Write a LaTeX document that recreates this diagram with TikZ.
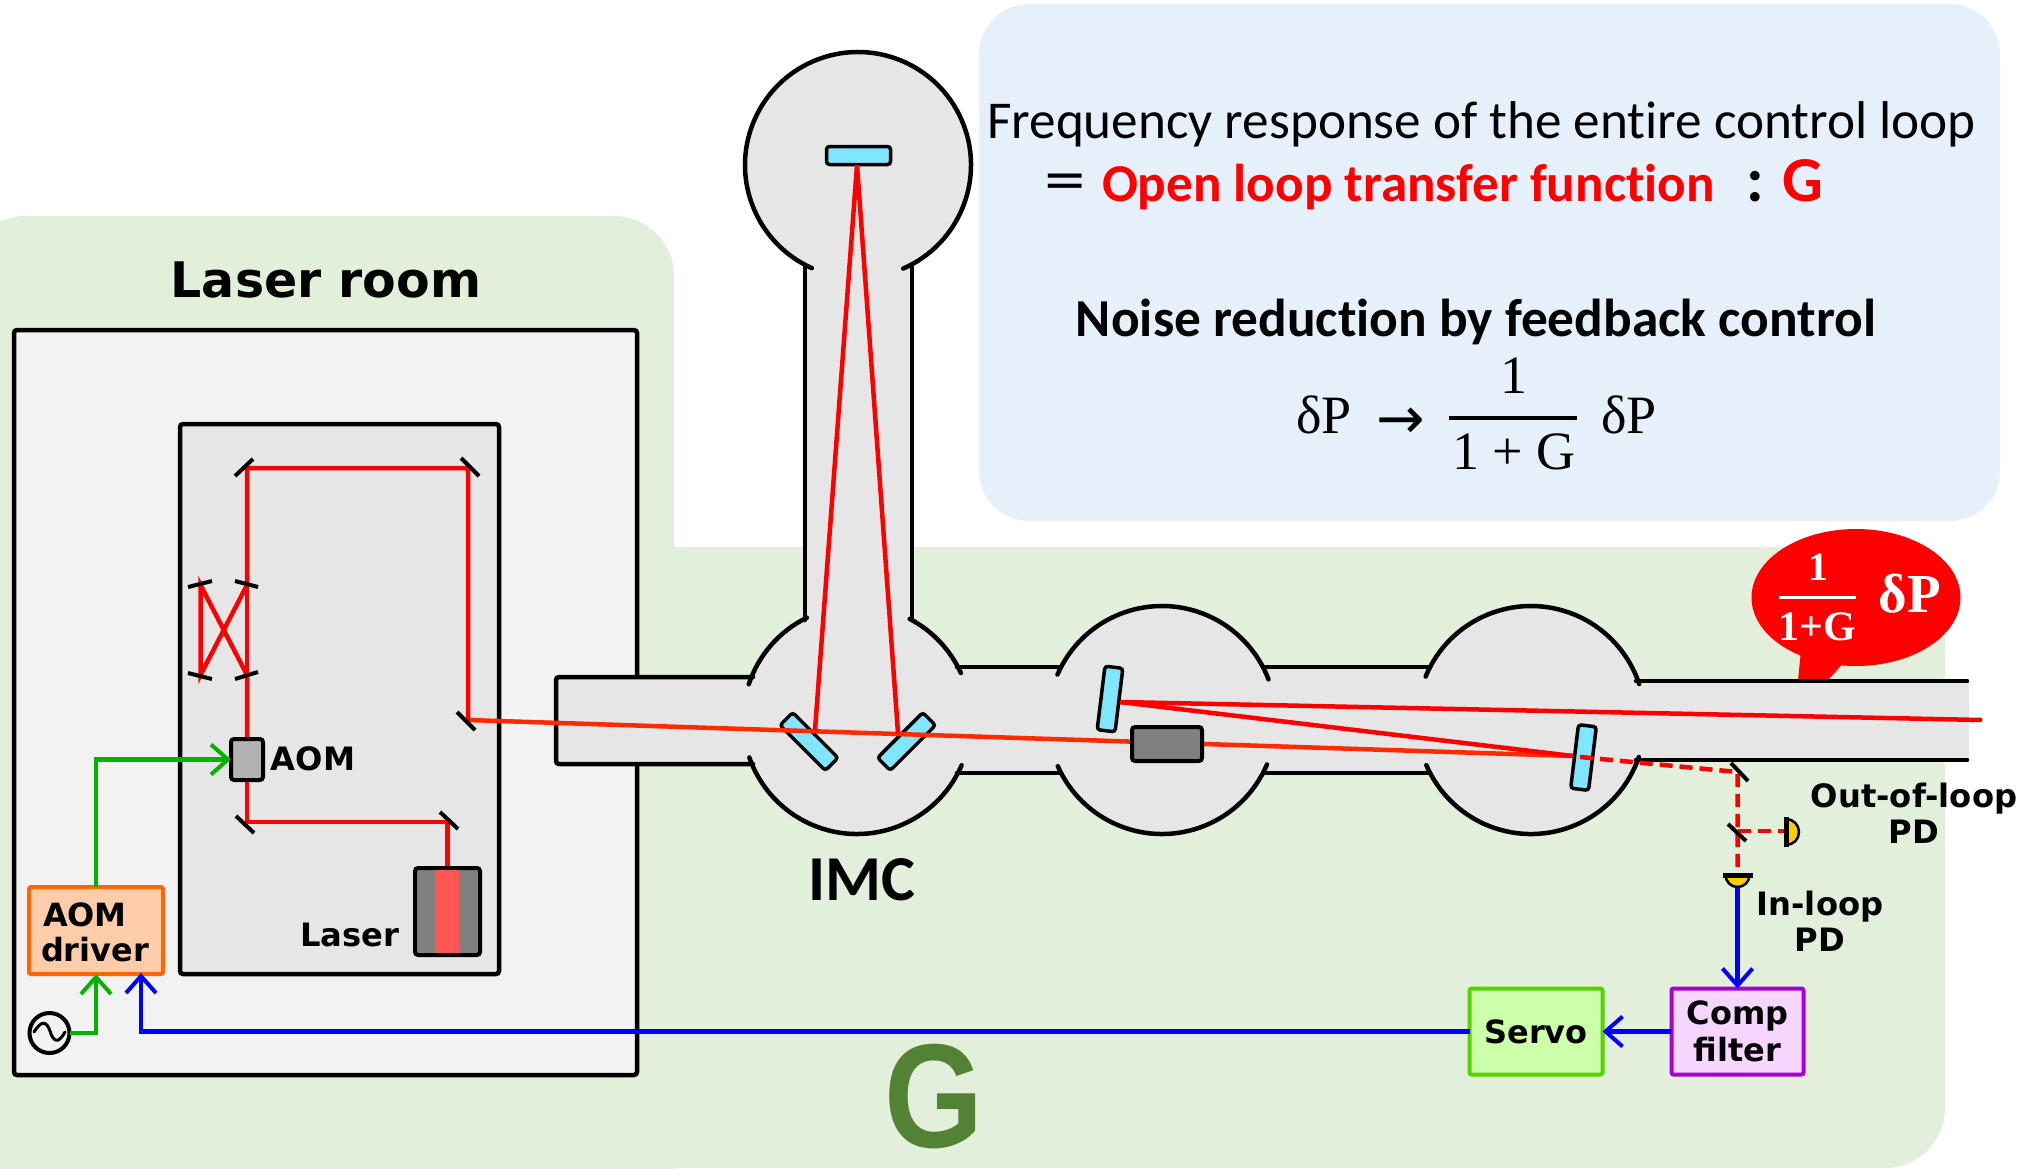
\documentclass[tikz,border=0pt]{standalone}
\usepackage{fontspec}
\setmainfont{Carlito}[Ligatures=NoCommon]
\newfontfamily\dv{DejaVu Sans}
\newfontfamily\lib{Liberation Serif}
\newfontfamily\las{Liberation Sans}
\usetikzlibrary{arrows.meta}
\definecolor{bgreen}{HTML}{E2EFDA}
\definecolor{panel}{HTML}{E5F0FA}
\definecolor{roomgray}{HTML}{F2F2F2}
\definecolor{tablegray}{HTML}{E6E6E6}
\definecolor{optic}{HTML}{80E5FF}
\definecolor{beamorange}{HTML}{FF2A00}
\definecolor{pdyellow}{HTML}{FFCC00}
\definecolor{midgray}{HTML}{808080}
\definecolor{stripe}{HTML}{FF5555}
\definecolor{gsig}{HTML}{00B400}
\definecolor{darkg}{HTML}{548235}
\definecolor{drvline}{HTML}{FF6600}
\definecolor{drvfill}{HTML}{FFCCAA}
\definecolor{srvline}{HTML}{55D400}
\definecolor{srvfill}{HTML}{CCFFAA}
\definecolor{cmpline}{HTML}{AA00D4}
\definecolor{cmpfill}{HTML}{F6D5FF}
\tikzset{
  px/.style={x=0.5pt,y=-0.5pt},
  wall/.style={draw=black,line width=2.25pt,line cap=round},
  mirrormark/.style={draw=black,line width=2pt},
  beam/.style={draw=red,line width=2.25pt},
  mainbeam/.style={draw=beamorange,line width=2.25pt},
  dashbeam/.style={draw=red,line width=2.25pt,dash pattern=on 6.5pt off 3.5pt},
  optbox/.style={draw=black,fill=optic,line width=1.75pt,rounded corners=1.5pt,minimum width=32pt,minimum height=9pt,inner sep=0pt,outer sep=0pt},
  hw/.style={draw=black,line width=2pt,rounded corners=1.5pt,inner sep=0pt,outer sep=0pt},
  ctl/.style={line width=2pt,rounded corners=1pt,inner sep=0pt,outer sep=0pt,align=center,font=\dv\bfseries\fontsize{16}{18.5}\selectfont},
  lab/.style={inner sep=0pt,outer sep=0pt,align=center,font=\dv\bfseries\fontsize{16.1}{18}\selectfont},
  tip/.style={-{Straight Barb[length=8.5pt,width=15pt,line width=2pt]}},
  sig/.style={line width=2.25pt},
  txt/.style={inner sep=0pt,outer sep=0pt,anchor=base},
}
\begin{document}
\begin{tikzpicture}[px]
\useasboundingbox (0,0) rectangle (2018,1168);
% backgrounds
\fill[bgreen,rounded corners=30pt] (-35,216) rectangle (674,1240);
\fill[bgreen,rounded corners=30pt] (600,547) rectangle (1945,1168);
\fill[panel,rounded corners=25pt] (979,4) rectangle (2000,521);
% rooms
\node[hw,fill=roomgray,minimum width=311.5pt,minimum height=372.5pt,line width=2.25pt,anchor=north west] (room) at (14,330) {};
\node[hw,fill=tablegray,minimum width=159.5pt,minimum height=275pt,line width=2.25pt,anchor=north west] (table) at (180,424) {};
% bubble
\fill[red] (1856,597.5) ellipse [x radius=104.5,y radius=68.5];
\fill[red] (1801,650) -- (1798,680) -- (1828,680) -- (1846,660) -- cycle;
% vacuum fill
\fill[tablegray] (556,677) rectangle (760,764);
\fill[tablegray] (950,667) rectangle (1440,773);
\fill[tablegray] (1620,681) rectangle (1969,760);
\fill[tablegray] (805,260) rectangle (912,625);
\fill[tablegray] (858,165) circle [radius=113];
\fill[tablegray] (857,720) circle [radius=114];
\fill[tablegray] (1162,720) circle [radius=114];
\fill[tablegray] (1531,720) circle [radius=114];
% vacuum walls
\draw[wall] ([shift={(858,165)}]66.4:113) arc[start angle=66.4,end angle=-245.9,radius=113];
\draw[wall] (805,267) -- (805,620);
\draw[wall] (912,267) -- (912,620);
\draw[wall] ([shift={(857,720)}]-62.5:114) arc[start angle=-62.5,end angle=-24.3,radius=114];
\draw[wall] ([shift={(857,720)}]23.4:114) arc[start angle=23.4,end angle=160.8,radius=114];
\draw[wall] ([shift={(857,720)}]198.3:114) arc[start angle=198.3,end angle=243.9,radius=114];
\draw[wall] ([shift={(1162,720)}]203.5:114) arc[start angle=203.5,end angle=339.1,radius=114];
\draw[wall] ([shift={(1162,720)}]22.9:114) arc[start angle=22.9,end angle=156.1,radius=114];
\draw[wall] ([shift={(1531,720)}]202.4:114) arc[start angle=202.4,end angle=341.6,radius=114];
\draw[wall] ([shift={(1531,720)}]18.9:114) arc[start angle=18.9,end angle=156.7,radius=114];
\draw[wall,rounded corners=1.5pt] (753,677) -- (556,677) -- (556,764) -- (753,764);
\draw[wall] (957,667) -- (1060,667);
\draw[wall] (957,773) -- (1060,773);
\draw[wall] (1264,667) -- (1430,667);
\draw[wall] (1264,773) -- (1430,773);
\draw[wall] (1636,681) -- (1967,681);
\draw[wall] (1636,760) -- (1967,760);
% suspended optics
\node[optbox] (mtop) at (858.5,155.5) {};
\node[optbox,rotate=-45] (mleft) at (809,741.5) {};
\node[optbox,rotate=45] (mright) at (906.5,741.5) {};
\node[optbox,rotate=83] (mprm) at (1110,699) {};
\node[optbox,rotate=83] (mbs) at (1583.5,757.5) {};
% beam coordinates
\coordinate (a1) at (815,730);
\coordinate (a2) at (857,165);
\coordinate (a3) at (898,733);
\coordinate (b1) at (1120,702);
\coordinate (b2) at (1982,720);
\coordinate (b3) at (1573,756);
\coordinate (b4) at (1580,757);
\coordinate (c0) at (468,720);
\coordinate (c1) at (468,468);
\coordinate (c2) at (247,468);
\coordinate (c3) at (247,585);
\coordinate (c4) at (247,675);
\coordinate (c5) at (200.5,585);
\coordinate (c6) at (200.5,675);
\coordinate (d1) at (247,822);
\coordinate (d2) at (447.5,822);
\coordinate (e1) at (1737.5,772);
\coordinate (e2) at (1737.5,831);
\coordinate (e3) at (1737.5,875);
\coordinate (e4) at (1786,831);
% beams
\draw[mainbeam] (c0) -- (b3);
\draw[beam] (a1) -- (a2) -- (a3);
\draw[beam] (b1) -- (b2);
\draw[beam] (b1) -- (b3);
\draw[beam,line join=miter] (c0) -- (c1) -- (c2) -- (c3) -- (c6) -- (c5) -- (c4) -- (247,740);
\draw[beam] (c3) -- (c4);
\draw[beam,line join=miter] (247,780) -- (d1) -- (d2) -- (447.5,868);
\draw[dashbeam] (b4) -- (e1) -- (e3);
\draw[dashbeam] (e2) -- (e4);
% beam blocks
\node[hw,fill=midgray,minimum width=35pt,minimum height=17pt] (faraday) at (1167,744) {};
\node[hw,fill=black!30,minimum width=16pt,minimum height=20.5pt] (aom) at (247,759.5) {};
\node[hw,fill=midgray,minimum width=32.5pt,minimum height=43.5pt] (laser) at (447.5,911.5) {};
\fill[stripe] (435,870) rectangle (459,953);
% steering mirrors
\draw[mirrormark] (235,476) -- (253,459);
\draw[mirrormark] (461,458) -- (479,476);
\draw[mirrormark] (457,712) -- (475,730);
\draw[mirrormark] (188,587) -- (212,581);
\draw[mirrormark] (235,581) -- (258,587);
\draw[mirrormark] (188,673) -- (212,679);
\draw[mirrormark] (235,679) -- (258,672);
\draw[mirrormark] (236,816) -- (254,833);
\draw[mirrormark] (440,812) -- (458,829);
\draw[mirrormark] (1731,763) -- (1748,781);
\draw[mirrormark] (1728,824) -- (1746,841);
% photodiodes
\fill[pdyellow,draw=black,line width=1.25pt] (1725.5,875) arc[start angle=180,end angle=0,radius=12] -- cycle;
\draw[mirrormark,line width=2.5pt] (1723,875) -- (1753,875);
\fill[pdyellow,draw=black,line width=1.25pt] (1786,819) arc[start angle=-90,end angle=90,radius=13] -- cycle;
\draw[mirrormark,line width=2.5pt] (1786,817) -- (1786,847);
\coordinate (pdin) at (1737.5,888);
% electronics
\node[ctl,draw=drvline,fill=drvfill,minimum width=67pt,minimum height=43.5pt] (driver) at (96,930.5) {};
\node[lab,align=left,font=\dv\bfseries\fontsize{16}{17.5}\selectfont] (drvtext) at (95,932) {\hspace*{1pt}AOM\\driver};
\node[ctl,draw=srvline,fill=srvfill,minimum width=66.5pt,minimum height=43pt] (servo) at (1536,1031.5) {Servo};
\node[ctl,draw=cmpline,fill=cmpfill,minimum width=66pt,minimum height=43pt] (comp) at (1737.5,1031.5) {Comp\\filter};
\node[circle,draw=black,line width=2pt,minimum size=20pt,inner sep=0pt,outer sep=0pt] (source) at (49.5,1033) {};
\draw[line width=1.5pt,line cap=round] (34,1032) .. controls (42,1019) and (47,1022) .. (50,1031) .. controls (53,1041) and (58,1045) .. (65,1032);
\coordinate (drvin) at (141,973);
% signals
\draw[gsig,sig,tip] (driver.north) |- (aom.west);
\draw[gsig,sig,tip] (source.east) -| (driver.south);
\draw[blue,sig,tip] (servo.west) -| (drvin);
\draw[blue,sig,tip] (comp.west) -- (servo.east);
\draw[blue,sig,tip] (pdin) -- (comp.north);
% labels
\node[lab] (laslab) at (350,935) {Laser};
\node[lab] (aomlab) at (313,759) {AOM};
\node[lab] (oolab) at (1914,813) {Out-of-loop\\PD};
\node[lab] (illab) at (1820,921) {In-loop\\PD};
\node[txt,font=\dv\bfseries\fontsize{24.5}{28}\selectfont] (roomlab) at (326,297.5) {Laser room};
\node[txt,font=\bfseries\fontsize{32}{36}\selectfont] (imc) at (862,900) {IMC};
\node[txt,text=darkg,font=\las\bfseries\fontsize{74}{76}\selectfont] (gbig) at (934,1147) {\scalebox{0.86}[1]{G}};
\node[txt,font=\fontsize{26.6}{30}\selectfont] (freq) at (1481.5,138) {Frequency response of the entire control loop};
\node[txt,font=\fontsize{32}{36}\selectfont] (eqs) at (1065,201) {\scalebox{1.3}[1]{=}};
\node[txt,anchor=base west,text=red,font=\bfseries\fontsize{26.6}{30}\selectfont] (open) at (1102,201) {Open loop transfer function};
\node[txt,font=\bfseries\fontsize{32}{34}\selectfont] (colon) at (1755,201) {:};
\node[txt,text=red,font=\bfseries\fontsize{32}{34}\selectfont] (gsym) at (1803,201) {G};
\node[txt,font=\bfseries\fontsize{26.7}{30}\selectfont] (noise) at (1476,336) {Noise reduction by feedback control};
\node[txt,font=\lib\fontsize{27}{30}\selectfont] (dp1) at (1324,433) {δP};
\node[txt,font=\dv\fontsize{29}{32}\selectfont] (arr) at (1401,438) {→};
\draw[line width=2pt] (1449,418) -- (1577,418);
\node[txt,font=\lib\fontsize{27}{30}\selectfont] (one) at (1514,393) {1};
\node[txt,font=\lib\fontsize{27}{30}\selectfont] (onepg) at (1514,469) {1 + G};
\node[txt,font=\lib\fontsize{27}{30}\selectfont] (dp2) at (1629,433) {δP};
% bubble text
\draw[white,line width=1.5pt] (1779,597) -- (1856,597);
\node[txt,text=white,font=\lib\bfseries\fontsize{20}{24}\selectfont] (bone) at (1818,580) {1};
\node[txt,text=white,font=\lib\bfseries\fontsize{21}{24}\selectfont] (bonepg) at (1817,640) {1+G};
\node[txt,text=white,font=\lib\bfseries\fontsize{27.5}{30}\selectfont] (bdp) at (1910,612) {δP};
\end{tikzpicture}
\end{document}
